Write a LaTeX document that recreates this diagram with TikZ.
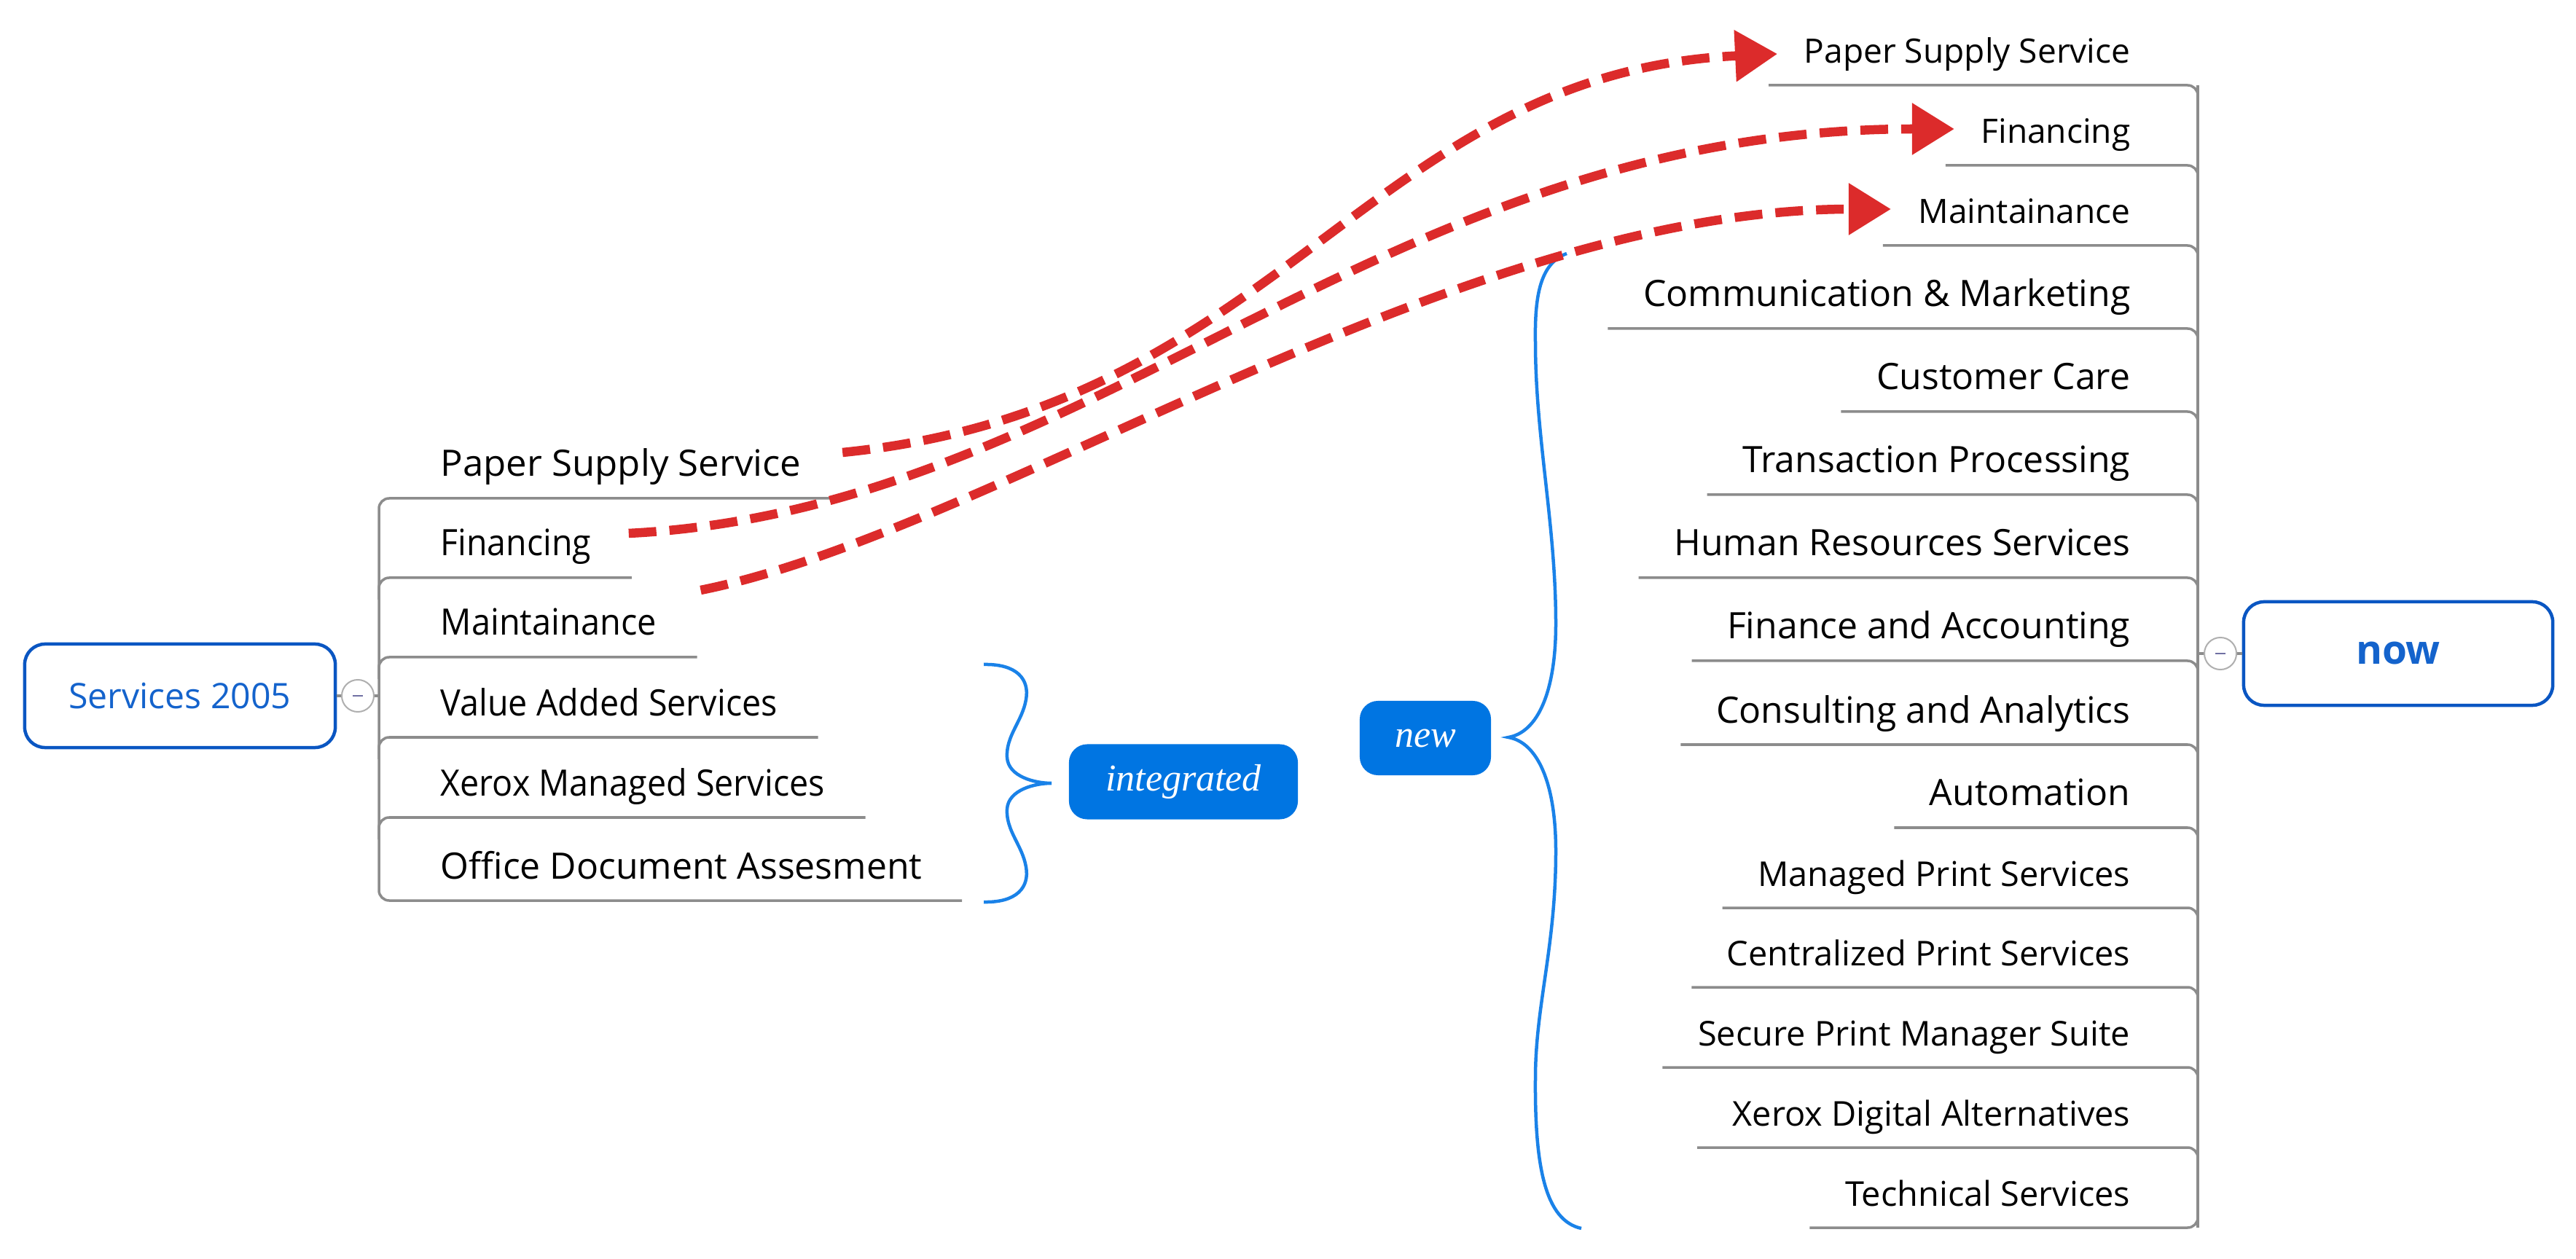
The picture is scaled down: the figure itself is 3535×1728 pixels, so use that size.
\documentclass[tikz,border=0pt]{standalone}
\usepackage{fontspec}
\usepackage{graphicx}
\setmainfont{Open Sans}
\newfontfamily\serifit{Liberation Serif}
\usetikzlibrary{arrows.meta}
\definecolor{linegray}{HTML}{8C8C8C}
\definecolor{boxblue}{HTML}{0A56C2}
\definecolor{textblue}{HTML}{1463CC}
\definecolor{fillblue}{HTML}{0075E2}
\definecolor{braceblue}{HTML}{1A82E8}
\definecolor{arrowred}{HTML}{DC2B2B}
\newcommand{\sqz}[2]{\scalebox{#1}[1]{#2}}
\begin{document}
\begin{tikzpicture}[x=0.01cm, y=-0.01cm,
  big/.style={font=\fontsize{14.2pt}{17pt}\selectfont, inner sep=0pt, text=black},
  small/.style={font=\fontsize{13.1pt}{16pt}\selectfont, inner sep=0pt, text=black},
  smallb/.style={font=\fontsize{13.35pt}{16pt}\selectfont, inner sep=0pt, text=black},
  conn/.style={draw=linegray, line width=0.035cm, rounded corners=0.14cm},
  rootbox/.style={draw=boxblue, line width=0.045cm, rounded corners=0.28cm, fill=white, inner sep=0pt},
  tagbox/.style={fill=fillblue, rounded corners=0.25cm, text=white, inner sep=0pt,
    font=\serifit\itshape\fontsize{14.8pt}{17pt}\selectfont},
  brace/.style={draw=braceblue, line width=0.045cm},
  move/.style={draw=arrowred, line width=0.125cm, dash pattern=on 0.38cm off 0.18cm,
    -{Triangle[length=0.58cm,width=0.68cm]}},
  toggle/.style={circle, draw=linegray!70, fill=white, line width=0.02cm, minimum size=0.44cm, inner sep=0pt}
]
\fill[white] (0,0) rectangle (3535,1728);
\useasboundingbox (0,0) rectangle (3535,1728);

% ---------- root boxes ----------
\node[rootbox, minimum width=4.26cm, minimum height=1.42cm, text=textblue,
  font=\fontsize{13.7pt}{16pt}\selectfont] (root) at (247,955) {Services 2005};
\node[rootbox, minimum width=4.24cm, minimum height=1.42cm, text=textblue,
  font=\bfseries\fontsize{15.6pt}{18pt}\selectfont] (now) at (3291,897) {now};

% ---------- tag boxes ----------
\node[tagbox, minimum width=3.14cm, minimum height=1.03cm] (integ) at (1624,1073) {integrated};
\node[tagbox, minimum width=1.80cm, minimum height=1.02cm] (new) at (1956,1013) {new};

% ---------- left topics ----------
\node[big, anchor=base west] (l1) at (604,654) {\sqz{1.02}{Paper Supply Service}};
\node[big, anchor=base west] (l2) at (604,763) {\sqz{0.93}{Financing}};
\node[big, anchor=base west] (l3) at (604,872) {\sqz{0.94}{Maintainance}};
\node[big, anchor=base west] (l4) at (604,982) {\sqz{0.935}{Value Added Services}};
\node[big, anchor=base west] (l5) at (604,1092) {\sqz{0.935}{Xerox Managed Services}};
\node[big, anchor=base west] (l6) at (604,1206) {Office Document Assesment};

\coordinate (lhubT) at (520,684);
\coordinate (lhubB) at (520,1236);
\coordinate (lhub) at (520,955);
\draw[conn] ([shift={(40,30)}]l1.base east) -- (lhubT) -- (lhubB) -- ([shift={(54,30)}]l6.base east);
\foreach \n/\y in {l2/793, l3/902, l4/1012, l5/1122}{
  \draw[conn] ([shift={(55,30)}]\n.base east) -- (520,\y) -- (520,\y+30);
}
\draw[draw=linegray, line width=0.035cm] (root.east) -- (lhub);
\node[toggle] (tl) at (491,955) {};
\draw[draw=linegray!80!blue, line width=0.025cm] ([xshift=-0.07cm]tl.center) -- ([xshift=0.07cm]tl.center);

% ---------- right topics ----------
\node[small, anchor=base east] (r1) at (2924,87) {Paper Supply Service};
\node[small, anchor=base east] (r2) at (2924,197) {Financing};
\node[small, anchor=base east] (r3) at (2924,307) {Maintainance};
\node[big, anchor=base east] (r4) at (2924,421) {Communication \& Marketing};
\node[big, anchor=base east] (r5) at (2924,535) {Customer Care};
\node[big, anchor=base east] (r6) at (2924,649) {Transaction Processing};
\node[big, anchor=base east] (r7) at (2924,763) {Human Resources Services};
\node[big, anchor=base east] (r8) at (2924,877) {Finance and Accounting};
\node[big, anchor=base east] (r9) at (2924,992) {Consulting and Analytics};
\node[big, anchor=base east] (r10) at (2924,1106) {Automation};
\node[smallb, anchor=base east] (r11) at (2924,1216) {Managed Print Services};
\node[smallb, anchor=base east] (r12) at (2924,1325) {Centralized Print Services};
\node[smallb, anchor=base east] (r13) at (2924,1435) {Secure Print Manager Suite};
\node[smallb, anchor=base east] (r14) at (2924,1545) {Xerox Digital Alternatives};
\node[smallb, anchor=base east] (r15) at (2924,1655) {Technical Services};

\coordinate (rhubT) at (3016,117);
\coordinate (rhubB) at (3016,1685);
\coordinate (rhub) at (3016,897);
\draw[draw=linegray, line width=0.035cm] (rhubT) -- (rhubB);
\foreach \n/\y in {r1/117, r2/227, r3/337, r4/451, r5/565, r6/679, r7/793, r8/907, r9/1022, r10/1136, r11/1246, r12/1355, r13/1465, r14/1575}{
  \draw[conn] ([shift={(-48,30)}]\n.base west) -- (3016,\y) -- (3016,\y+30);
}
\draw[conn] ([shift={(-48,30)}]r15.base west) -- (rhubB) -- (3016,1655);
\draw[draw=linegray, line width=0.035cm] (rhub) -- (now.west);
\node[toggle] (tr) at (3047,897) {};
\draw[draw=linegray!80!blue, line width=0.025cm] ([xshift=-0.07cm]tr.center) -- ([xshift=0.07cm]tr.center);

% ---------- braces ----------
\coordinate (lbtip) at (1443,1075);
\draw[brace] (1350,912) .. controls (1395,911) and (1413,932) .. (1408,960)
  .. controls (1403,990) and (1380,1010) .. (1382,1040)
  .. controls (1384,1066) and (1420,1075) .. (lbtip)
  .. controls (1420,1075) and (1384,1084) .. (1382,1110)
  .. controls (1380,1140) and (1403,1160) .. (1408,1190)
  .. controls (1413,1218) and (1395,1239) .. (1350,1238);

\coordinate (rbtip) at (2070,1012);
\draw[brace] (2150,348) .. controls (2112,362) and (2106,410) .. (2107,470)
  .. controls (2107,600) and (2135,720) .. (2135,856)
  .. controls (2135,950) and (2110,1005) .. (rbtip)
  .. controls (2110,1019) and (2135,1075) .. (2135,1168)
  .. controls (2135,1300) and (2107,1380) .. (2107,1480)
  .. controls (2106,1600) and (2120,1675) .. (2170,1686);

% ---------- moved-topic arrows ----------
\draw[move] ([shift={(56,-33)}]l1.base east) .. controls +(600,-60) and +(-559,26) .. ([shift={(-36,-13)}]r1.base west);
\draw[move] ([shift={(51,-31)}]l2.base east) .. controls +(638,-32) and +(-786,0) .. ([shift={(-36,-20)}]r2.base west);
\draw[move] ([shift={(60,-62)}]l3.base east) .. controls +(400,-80) and +(-600,0) .. ([shift={(-37,-20)}]r3.base west);
\end{tikzpicture}
\end{document}
